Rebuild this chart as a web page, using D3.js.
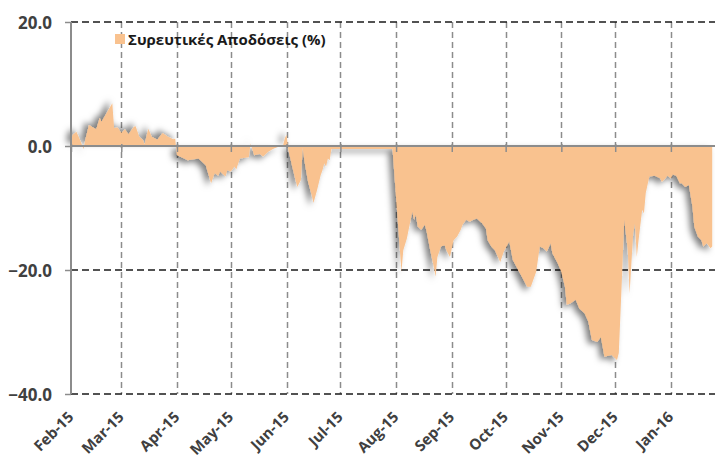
<!DOCTYPE html>
<html>
<head>
<meta charset="utf-8">
<script src="https://cdn.jsdelivr.net/npm/d3@7/dist/d3.min.js"></script>
<style>
  html, body { margin: 0; padding: 0; background: #fff; }
  svg { display: block; }
</style>
</head>
<body>
<svg id="chart" width="715" height="462"></svg>
<script>
// ---- data ----
const seriesName = "Συρευτικές Αποδόσεις (%)";
const dates = [
  "2015-02-01","2015-02-02","2015-02-04","2015-02-06","2015-02-08","2015-02-09","2015-02-11","2015-02-15","2015-02-17","2015-02-18",
  "2015-02-24","2015-02-25","2015-02-27","2015-03-01","2015-03-03","2015-03-05","2015-03-08","2015-03-09","2015-03-11","2015-03-13",
  "2015-03-14","2015-03-16","2015-03-18","2015-03-21","2015-03-24","2015-03-27","2015-03-30","2015-03-31","2015-04-01","2015-04-05",
  "2015-04-07","2015-04-13","2015-04-17","2015-04-20","2015-04-22","2015-04-24","2015-04-25","2015-04-28","2015-04-29","2015-05-01",
  "2015-05-03","2015-05-04","2015-05-06","2015-05-11","2015-05-12","2015-05-14","2015-05-17","2015-05-19","2015-05-22","2015-05-25",
  "2015-05-28","2015-05-30","2015-05-31","2015-06-01","2015-06-02","2015-06-04","2015-06-06","2015-06-07","2015-06-09","2015-06-10",
  "2015-06-11","2015-06-13","2015-06-15","2015-06-16","2015-06-18","2015-06-20","2015-06-21","2015-06-22","2015-06-23","2015-06-24",
  "2015-06-25","2015-06-26","2015-07-30","2015-08-04","2015-08-05","2015-08-07","2015-08-10","2015-08-11","2015-08-12","2015-08-13",
  "2015-08-15","2015-08-17","2015-08-18","2015-08-20","2015-08-22","2015-08-23","2015-08-24","2015-08-26","2015-08-28","2015-08-29",
  "2015-08-31","2015-09-02","2015-09-04","2015-09-06","2015-09-07","2015-09-09","2015-09-11","2015-09-13","2015-09-15","2015-09-18",
  "2015-09-20","2015-09-21","2015-09-23","2015-09-25","2015-09-28","2015-09-30","2015-10-03","2015-10-05","2015-10-08","2015-10-11",
  "2015-10-13","2015-10-15","2015-10-16","2015-10-18","2015-10-20","2015-10-22","2015-10-24","2015-10-26","2015-10-27","2015-10-30",
  "2015-11-01","2015-11-03","2015-11-04","2015-11-06","2015-11-09","2015-11-11","2015-11-14","2015-11-16","2015-11-18","2015-11-21",
  "2015-11-23","2015-11-25","2015-11-29","2015-12-02","2015-12-03","2015-12-05","2015-12-06","2015-12-08","2015-12-09","2015-12-11",
  "2015-12-12","2015-12-13","2015-12-14","2015-12-16","2015-12-17","2015-12-18","2015-12-20","2015-12-23","2015-12-26","2015-12-27",
  "2015-12-29","2015-12-30","2016-01-01","2016-01-02","2016-01-04","2016-01-06","2016-01-07","2016-01-09","2016-01-11","2016-01-13",
  "2016-01-14","2016-01-16","2016-01-18","2016-01-19","2016-01-21","2016-01-23","2016-01-24"
];
const values = [
  1.2, 1.8, 2.3, 1.0, -0.5, 1.1, 3.4, 2.7, 4.5, 3.9,
  6.9, 2.9, 3.0, 2.1, 2.7, 1.9, 3.1, 3.2, 1.5, 1.0,
  0.3, 2.8, 1.5, 1.0, 2.1, 1.5, 1.1, 1.2, -1.5, -2.0,
  -2.3, -2.0, -3.1, -6.0, -4.4, -4.8, -4.1, -4.9, -3.9, -4.1,
  -3.3, -3.8, -2.0, -1.8, 0.4, -1.5, -1.3, -1.7, -0.9, -0.4,
  -0.1, 0.0, 1.2, 1.8, -0.6, -3.1, -5.5, -6.6, -5.5, -0.3,
  -2.5, -5.8, -7.9, -9.2, -7.1, -4.7, -3.9, -2.8, -3.3, -2.0,
  -2.3, -0.5, -0.5, -20.3, -16.8, -14.9, -10.6, -11.9, -11.1, -13.0,
  -13.5, -12.7, -13.8, -16.8, -19.5, -21.1, -17.9, -16.2, -16.0, -16.8,
  -17.9, -15.2, -14.6, -13.5, -12.7, -11.9, -12.2, -11.9, -11.7, -12.5,
  -13.3, -15.2, -16.2, -16.8, -18.7, -17.0, -15.4, -18.4, -20.0, -21.6,
  -22.7, -22.7, -21.9, -20.3, -16.2, -16.5, -17.0, -15.7, -17.3, -18.9,
  -20.3, -22.7, -25.6, -25.4, -24.8, -26.2, -27.0, -28.3, -31.3, -31.6,
  -30.8, -34.0, -33.7, -34.5, -33.4, -19.5, -11.9, -16.8, -23.8, -14.1,
  -12.5, -17.9, -15.2, -10.3, -10.9, -7.6, -4.9, -4.8, -5.2, -5.8,
  -5.2, -4.8, -5.2, -4.6, -4.8, -6.0, -6.0, -6.6, -6.3, -9.8,
  -13.0, -14.6, -15.2, -16.2, -15.7, -16.5, -16.2
];
const yTicks = [20, 0, -20, -40];
const xStart = "2015-02-01";
const xEnd = "2016-01-25";

// ---- drawing ----
const parse = d3.timeParse("%Y-%m-%d");
const data = dates.map((d, i) => ({ date: parse(d), v: values[i] }));

const W = 715, H = 462;
const L = 71, R = 714, T = 22, B = 394;
const svg = d3.select("#chart");
svg.append("rect").attr("width", W).attr("height", H).attr("fill", "#fff");

const x = d3.scaleTime().domain([parse(xStart), parse(xEnd)]).range([L, R]);
const y = d3.scaleLinear().domain([-40, 20]).range([B, T]);
const monthTicks = d3.timeMonth.range(parse("2015-02-01"), parse("2016-02-01"));

const defs = svg.append("defs");
function shadow(id, dx, dy) {
  const f = defs.append("filter").attr("id", id)
    .attr("x", "-10%").attr("y", "-30%").attr("width", "120%").attr("height", "160%");
  f.append("feDropShadow").attr("dx", dx).attr("dy", dy)
    .attr("stdDeviation", 3).attr("flood-color", "#000").attr("flood-opacity", 0.5);
}
shadow("shPos", -4, -3);
shadow("shNeg", -4, 3);
defs.append("clipPath").attr("id", "clipPos").append("rect")
  .attr("x", 0).attr("y", 0).attr("width", W).attr("height", y(0));
defs.append("clipPath").attr("id", "clipNeg").append("rect")
  .attr("x", 0).attr("y", y(0)).attr("width", W).attr("height", H - y(0));

// vertical dashed gridlines
svg.append("g").selectAll("line").data(monthTicks.slice(1)).join("line")
  .attr("x1", d => Math.round(x(d)) + 0.5).attr("x2", d => Math.round(x(d)) + 0.5)
  .attr("y1", y(20)).attr("y2", y(-40))
  .attr("stroke", "#8c8c8c").attr("stroke-width", 1.5).attr("stroke-dasharray", "6,4");

// horizontal dashed gridlines
svg.append("g").selectAll("line").data(yTicks.filter(v => v !== 0)).join("line")
  .attr("x1", L).attr("x2", W)
  .attr("y1", d => y(d)).attr("y2", d => y(d))
  .attr("stroke", "#1a1a1a").attr("stroke-width", 1.6).attr("stroke-dasharray", "7,4");

// area
const area = d3.area().x(d => x(d.date)).y0(y(0)).y1(d => y(d.v));
const fillColor = "#F9C28F";
svg.append("g").attr("filter", "url(#shNeg)")
  .append("path").attr("clip-path", "url(#clipNeg)").attr("d", area(data)).attr("fill", fillColor);
svg.append("g").attr("filter", "url(#shPos)")
  .append("path").attr("clip-path", "url(#clipPos)").attr("d", area(data)).attr("fill", fillColor);

// zero axis with ticks
const zeroAxis = svg.append("g").attr("transform", `translate(0,${y(0)})`)
  .call(d3.axisBottom(x).tickValues(monthTicks).tickSize(6).tickFormat(""));
zeroAxis.select(".domain").attr("d", `M${L},0H${W}`).attr("stroke", "#8c8c8c").attr("stroke-width", 2);
zeroAxis.selectAll(".tick line").attr("stroke", "#8c8c8c").attr("stroke-width", 1.5).attr("y1", -2);

// y axis
const yAxis = svg.append("g").attr("transform", `translate(${L},0)`)
  .call(d3.axisLeft(y).tickValues(yTicks).tickSize(6).tickPadding(13).tickFormat(d3.format(".1f")));
yAxis.select(".domain").attr("d", `M0,${T}V${B}`).attr("stroke", "#8c8c8c").attr("stroke-width", 2);
yAxis.selectAll(".tick line").attr("stroke", "#8c8c8c").attr("stroke-width", 1.5);
yAxis.selectAll(".tick text")
  .attr("font-family", "'Open Sans', sans-serif").attr("font-weight", "bold")
  .attr("font-size", 17).attr("fill", "#404040").attr("dy", "0.36em");

// x labels
const xAxis = svg.append("g").attr("transform", `translate(0,${B})`)
  .call(d3.axisBottom(x).tickValues(monthTicks).tickSize(0).tickFormat(d3.timeFormat("%b-%y")));
xAxis.select(".domain").remove();
xAxis.selectAll(".tick text")
  .attr("font-family", "'Open Sans', sans-serif").attr("font-weight", "bold")
  .attr("font-size", 15).attr("fill", "#404040")
  .attr("text-anchor", "end").attr("dy", 0).attr("y", 0)
  .attr("transform", "translate(3,24) rotate(-45)");

// legend
const lg = svg.append("g");
lg.append("rect").attr("x", 115).attr("y", 34).attr("width", 10).attr("height", 10).attr("fill", fillColor);
lg.append("text").attr("x", 128).attr("y", 44.5).text(seriesName)
  .attr("font-family", "'Open Sans', sans-serif").attr("font-weight", "bold")
  .attr("font-size", 15).attr("fill", "#1a1a1a");
</script>
</body>
</html>
